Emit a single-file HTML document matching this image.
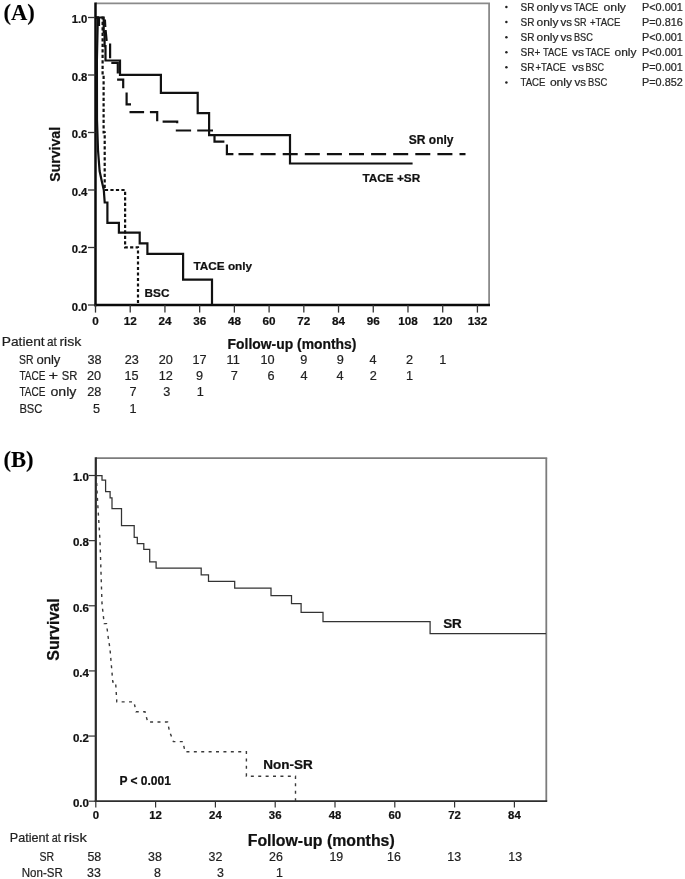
<!DOCTYPE html>
<html lang="en">
<head>
<meta charset="utf-8">
<title>Kaplan-Meier survival curves</title>
<style>
html, body { margin: 0; padding: 0; background: #ffffff; }
body { width: 685px; height: 879px; overflow: hidden; }
svg { display: block; }
text { white-space: pre; }
.sans { font-family: "Liberation Sans", Arial, sans-serif; }
.serif { font-family: "Liberation Serif", "Times New Roman", serif; }
.b { font-weight: 700; stroke: #111; stroke-width: 0.22px; }
.r { stroke: #2a2a2a; stroke-width: 0.22px; }
.serif.b { stroke-width: 0.12px; }
</style>
</head>
<body>
<svg width="685" height="879" viewBox="0 0 685 879">
<rect x="0" y="0" width="685" height="879" fill="#ffffff"/>
<g id="panelA">
<line x1="95.5" y1="3.3" x2="490.0" y2="3.3" stroke="#8a8a8a" stroke-width="1.8"/>
<line x1="489.1" y1="3.3" x2="489.1" y2="305.0" stroke="#8a8a8a" stroke-width="1.8"/>
<line x1="95.5" y1="2.4" x2="95.5" y2="306.2" stroke="#0a0a0a" stroke-width="2.5"/>
<line x1="94.3" y1="305.0" x2="490.0" y2="305.0" stroke="#0a0a0a" stroke-width="2.5"/>
<line x1="88.0" y1="17.5" x2="95.5" y2="17.5" stroke="#333" stroke-width="1.3"/>
<text class="sans b" x="87.4" y="23.4" font-size="11.3" text-anchor="end" fill="#111">1.0</text>
<line x1="88.0" y1="75.0" x2="95.5" y2="75.0" stroke="#333" stroke-width="1.3"/>
<text class="sans b" x="87.4" y="80.9" font-size="11.3" text-anchor="end" fill="#111">0.8</text>
<line x1="88.0" y1="132.5" x2="95.5" y2="132.5" stroke="#333" stroke-width="1.3"/>
<text class="sans b" x="87.4" y="138.4" font-size="11.3" text-anchor="end" fill="#111">0.6</text>
<line x1="88.0" y1="190.0" x2="95.5" y2="190.0" stroke="#333" stroke-width="1.3"/>
<text class="sans b" x="87.4" y="195.9" font-size="11.3" text-anchor="end" fill="#111">0.4</text>
<line x1="88.0" y1="247.5" x2="95.5" y2="247.5" stroke="#333" stroke-width="1.3"/>
<text class="sans b" x="87.4" y="253.4" font-size="11.3" text-anchor="end" fill="#111">0.2</text>
<line x1="88.0" y1="305.0" x2="95.5" y2="305.0" stroke="#333" stroke-width="1.3"/>
<text class="sans b" x="87.4" y="310.9" font-size="11.3" text-anchor="end" fill="#111">0.0</text>
<line x1="95.5" y1="305.0" x2="95.5" y2="312.6" stroke="#333" stroke-width="1.3"/>
<text class="sans b" x="95.5" y="324.8" font-size="11.7" text-anchor="middle" fill="#111">0</text>
<line x1="130.22" y1="305.0" x2="130.22" y2="312.6" stroke="#333" stroke-width="1.3"/>
<text class="sans b" x="130.2" y="324.8" font-size="11.7" text-anchor="middle" fill="#111">12</text>
<line x1="164.94" y1="305.0" x2="164.94" y2="312.6" stroke="#333" stroke-width="1.3"/>
<text class="sans b" x="164.9" y="324.8" font-size="11.7" text-anchor="middle" fill="#111">24</text>
<line x1="199.66000000000003" y1="305.0" x2="199.66000000000003" y2="312.6" stroke="#333" stroke-width="1.3"/>
<text class="sans b" x="199.7" y="324.8" font-size="11.7" text-anchor="middle" fill="#111">36</text>
<line x1="234.38" y1="305.0" x2="234.38" y2="312.6" stroke="#333" stroke-width="1.3"/>
<text class="sans b" x="234.4" y="324.8" font-size="11.7" text-anchor="middle" fill="#111">48</text>
<line x1="269.1" y1="305.0" x2="269.1" y2="312.6" stroke="#333" stroke-width="1.3"/>
<text class="sans b" x="269.1" y="324.8" font-size="11.7" text-anchor="middle" fill="#111">60</text>
<line x1="303.82000000000005" y1="305.0" x2="303.82000000000005" y2="312.6" stroke="#333" stroke-width="1.3"/>
<text class="sans b" x="303.8" y="324.8" font-size="11.7" text-anchor="middle" fill="#111">72</text>
<line x1="338.53999999999996" y1="305.0" x2="338.53999999999996" y2="312.6" stroke="#333" stroke-width="1.3"/>
<text class="sans b" x="338.5" y="324.8" font-size="11.7" text-anchor="middle" fill="#111">84</text>
<line x1="373.26" y1="305.0" x2="373.26" y2="312.6" stroke="#333" stroke-width="1.3"/>
<text class="sans b" x="373.3" y="324.8" font-size="11.7" text-anchor="middle" fill="#111">96</text>
<line x1="407.97999999999996" y1="305.0" x2="407.97999999999996" y2="312.6" stroke="#333" stroke-width="1.3"/>
<text class="sans b" x="408.0" y="324.8" font-size="11.7" text-anchor="middle" fill="#111">108</text>
<line x1="442.7" y1="305.0" x2="442.7" y2="312.6" stroke="#333" stroke-width="1.3"/>
<text class="sans b" x="442.7" y="324.8" font-size="11.7" text-anchor="middle" fill="#111">120</text>
<line x1="477.42" y1="305.0" x2="477.42" y2="312.6" stroke="#333" stroke-width="1.3"/>
<text class="sans b" x="477.4" y="324.8" font-size="11.7" text-anchor="middle" fill="#111">132</text>
<text class="sans b" x="0" y="0" font-size="14.1" text-anchor="middle" fill="#111" transform="translate(59.7,154.3) rotate(-90)">Survival</text>
<text class="sans b" x="292.0" y="348.7" font-size="13.9" text-anchor="middle" fill="#111">Follow-up (months)</text>
<text class="serif b" x="3.5" y="19.8" font-size="22.6" text-anchor="start" fill="#000">(A)</text>
<path d="M95.9,17.5 L103.7,17.5 L103.7,31.8 L104.6,31.8 L104.6,46.1 L105.5,46.1 L105.5,60.5 L120.0,60.5 L120.0,74.9 L160.9,74.9 L160.9,92.8 L197.7,92.8 L197.7,113.2 L209.1,113.2 L209.1,135.1 L290.0,135.1 L290.0,163.5 L412.6,163.5" fill="none" stroke="#111" stroke-width="2.2"/>
<path d="M99.0,17.5 L99.0,26.0 M104.9,19.5 L105.3,27.0 M105.6,30.0 L106.6,40.0 L107.6,40.0 M110.1,43.6 L110.1,58.2 M111.3,62.8 L117.8,62.8 L117.8,73.6 M117.1,79.7 L123.2,79.7 L123.2,88.2 M126.6,92.6 L126.6,104.3 L131.0,104.3 M129.5,112.2 L144.1,112.2 M149.9,112.2 L157.2,112.2 L157.2,121.3 M162.6,121.7 L177.2,121.7 L177.2,123.2 M175.8,130.5 L191.1,130.5 M197.2,130.5 L213.0,130.5 M214.5,135.9 L214.5,141.7 L224.4,141.7 M226.9,144.6 L226.9,154.1 L233.4,154.1 M238.5,154.1 L253.5,154.1 M260.6,154.1 L275.6,154.1 M282.7,154.1 L297.7,154.1 M304.8,154.1 L319.8,154.1 M326.9,154.1 L341.9,154.1 M349.0,154.1 L364.0,154.1 M371.1,154.1 L386.1,154.1 M393.2,154.1 L408.2,154.1 M415.3,154.1 L430.3,154.1 M437.4,154.1 L452.4,154.1 M459.5,154.1 L465.5,154.1" fill="none" stroke="#111" stroke-width="2.2"/>
<path d="M95.9,17.5 L102.6,17.5 L102.6,74.9 L103.6,74.9 L103.6,132.4 L104.7,132.4 L104.7,190.0 L125.1,190.0 L125.1,247.3 L138.0,247.3 L138.0,304.5" fill="none" stroke="#111" stroke-width="2.2" stroke-dasharray="3.2 2.3"/>
<path d="M95.9,17.5 L97.6,17.5 L97.6,28.0 L96.9,60.0 L97.0,120.0 L98.0,150.0 L99.6,171.0 L101.8,181.3 L103.8,190.0 L104.7,202.5 L107.4,202.5 L107.4,222.8 L118.9,222.8 L118.9,232.6 L139.7,232.6 L139.7,243.3 L147.4,243.3 L147.4,253.8 L183.1,253.8 L183.1,279.6 L212.0,279.6 L212.0,304.5" fill="none" stroke="#111" stroke-width="2.2"/>
<text class="sans b" x="408.8" y="144.3" font-size="12" text-anchor="start" fill="#111">SR only</text>
<text class="sans b" x="362.4" y="181.7" font-size="11.8" text-anchor="start" fill="#111">TACE +SR</text>
<text class="sans b" x="193.4" y="270.3" font-size="11.8" text-anchor="start" fill="#111">TACE only</text>
<text class="sans b" x="144.6" y="296.5" font-size="11.8" text-anchor="start" fill="#111">BSC</text>
</g>
<g id="legendA">
<circle cx="506.4" cy="7.0" r="1.25" fill="#222"/>
<text class="sans r" x="520.5" y="10.7" font-size="10.6" text-anchor="start" fill="#262626" textLength="13.9" lengthAdjust="spacingAndGlyphs">SR</text>
<text class="sans r" x="536.5" y="10.7" font-size="10.6" text-anchor="start" fill="#262626" textLength="21.9" lengthAdjust="spacingAndGlyphs">only</text>
<text class="sans r" x="560.5" y="10.7" font-size="10.6" text-anchor="start" fill="#262626" textLength="11.5" lengthAdjust="spacingAndGlyphs">vs</text>
<text class="sans r" x="573.9" y="10.7" font-size="10.6" text-anchor="start" fill="#262626" textLength="24.5" lengthAdjust="spacingAndGlyphs">TACE</text>
<text class="sans r" x="603.5" y="10.7" font-size="10.6" text-anchor="start" fill="#262626" textLength="22.5" lengthAdjust="spacingAndGlyphs">only</text>
<text class="sans r" x="642.0" y="10.7" font-size="10.6" text-anchor="start" fill="#262626" textLength="40.8" lengthAdjust="spacingAndGlyphs">P&lt;0.001</text>
<circle cx="506.4" cy="22.1" r="1.25" fill="#222"/>
<text class="sans r" x="520.5" y="25.8" font-size="10.6" text-anchor="start" fill="#262626" textLength="13.9" lengthAdjust="spacingAndGlyphs">SR</text>
<text class="sans r" x="536.5" y="25.8" font-size="10.6" text-anchor="start" fill="#262626" textLength="21.9" lengthAdjust="spacingAndGlyphs">only</text>
<text class="sans r" x="560.5" y="25.8" font-size="10.6" text-anchor="start" fill="#262626" textLength="11.5" lengthAdjust="spacingAndGlyphs">vs</text>
<text class="sans r" x="573.9" y="25.8" font-size="10.6" text-anchor="start" fill="#262626" textLength="12.5" lengthAdjust="spacingAndGlyphs">SR</text>
<text class="sans r" x="589.9" y="25.8" font-size="10.6" text-anchor="start" fill="#262626" textLength="30.5" lengthAdjust="spacingAndGlyphs">+TACE</text>
<text class="sans r" x="642.0" y="25.8" font-size="10.6" text-anchor="start" fill="#262626" textLength="40.8" lengthAdjust="spacingAndGlyphs">P=0.816</text>
<circle cx="506.4" cy="37.2" r="1.25" fill="#222"/>
<text class="sans r" x="520.5" y="40.9" font-size="10.6" text-anchor="start" fill="#262626" textLength="13.9" lengthAdjust="spacingAndGlyphs">SR</text>
<text class="sans r" x="536.5" y="40.9" font-size="10.6" text-anchor="start" fill="#262626" textLength="21.9" lengthAdjust="spacingAndGlyphs">only</text>
<text class="sans r" x="560.5" y="40.9" font-size="10.6" text-anchor="start" fill="#262626" textLength="11.5" lengthAdjust="spacingAndGlyphs">vs</text>
<text class="sans r" x="573.9" y="40.9" font-size="10.6" text-anchor="start" fill="#262626" textLength="18.9" lengthAdjust="spacingAndGlyphs">BSC</text>
<text class="sans r" x="642.0" y="40.9" font-size="10.6" text-anchor="start" fill="#262626" textLength="40.8" lengthAdjust="spacingAndGlyphs">P&lt;0.001</text>
<circle cx="506.4" cy="52.2" r="1.25" fill="#222"/>
<text class="sans r" x="520.5" y="56.0" font-size="10.6" text-anchor="start" fill="#262626" textLength="19.9" lengthAdjust="spacingAndGlyphs">SR+</text>
<text class="sans r" x="543.1" y="56.0" font-size="10.6" text-anchor="start" fill="#262626" textLength="24.3" lengthAdjust="spacingAndGlyphs">TACE</text>
<text class="sans r" x="571.9" y="56.0" font-size="10.6" text-anchor="start" fill="#262626" textLength="12.1" lengthAdjust="spacingAndGlyphs">vs</text>
<text class="sans r" x="585.5" y="56.0" font-size="10.6" text-anchor="start" fill="#262626" textLength="24.5" lengthAdjust="spacingAndGlyphs">TACE</text>
<text class="sans r" x="614.5" y="56.0" font-size="10.6" text-anchor="start" fill="#262626" textLength="21.9" lengthAdjust="spacingAndGlyphs">only</text>
<text class="sans r" x="642.0" y="56.0" font-size="10.6" text-anchor="start" fill="#262626" textLength="40.8" lengthAdjust="spacingAndGlyphs">P&lt;0.001</text>
<circle cx="506.4" cy="67.3" r="1.25" fill="#222"/>
<text class="sans r" x="520.5" y="71.1" font-size="10.6" text-anchor="start" fill="#262626" textLength="13.9" lengthAdjust="spacingAndGlyphs">SR</text>
<text class="sans r" x="535.5" y="71.1" font-size="10.6" text-anchor="start" fill="#262626" textLength="30.5" lengthAdjust="spacingAndGlyphs">+TACE</text>
<text class="sans r" x="571.9" y="71.1" font-size="10.6" text-anchor="start" fill="#262626" textLength="12.1" lengthAdjust="spacingAndGlyphs">vs</text>
<text class="sans r" x="585.5" y="71.1" font-size="10.6" text-anchor="start" fill="#262626" textLength="18.5" lengthAdjust="spacingAndGlyphs">BSC</text>
<text class="sans r" x="642.0" y="71.1" font-size="10.6" text-anchor="start" fill="#262626" textLength="40.8" lengthAdjust="spacingAndGlyphs">P=0.001</text>
<circle cx="506.4" cy="82.4" r="1.25" fill="#222"/>
<text class="sans r" x="520.5" y="86.2" font-size="10.6" text-anchor="start" fill="#262626" textLength="24.9" lengthAdjust="spacingAndGlyphs">TACE</text>
<text class="sans r" x="549.9" y="86.2" font-size="10.6" text-anchor="start" fill="#262626" textLength="22.1" lengthAdjust="spacingAndGlyphs">only</text>
<text class="sans r" x="574.5" y="86.2" font-size="10.6" text-anchor="start" fill="#262626" textLength="11.5" lengthAdjust="spacingAndGlyphs">vs</text>
<text class="sans r" x="588.1" y="86.2" font-size="10.6" text-anchor="start" fill="#262626" textLength="19.3" lengthAdjust="spacingAndGlyphs">BSC</text>
<text class="sans r" x="642.0" y="86.2" font-size="10.6" text-anchor="start" fill="#262626" textLength="40.8" lengthAdjust="spacingAndGlyphs">P=0.852</text>
</g>
<g id="riskA">
<text class="sans r" x="1.8" y="346.4" font-size="12.7" text-anchor="start" fill="#1c1c1c" textLength="42.8" lengthAdjust="spacingAndGlyphs">Patient</text>
<text class="sans r" x="47.0" y="346.4" font-size="12.7" text-anchor="start" fill="#1c1c1c" textLength="9.8" lengthAdjust="spacingAndGlyphs">at</text>
<text class="sans r" x="59.4" y="346.4" font-size="12.7" text-anchor="start" fill="#1c1c1c" textLength="22.0" lengthAdjust="spacingAndGlyphs">risk</text>
<text class="sans r" x="19.0" y="364.3" font-size="12.7" text-anchor="start" fill="#1c1c1c" textLength="14.4" lengthAdjust="spacingAndGlyphs">SR</text>
<text class="sans r" x="36.4" y="364.3" font-size="12.7" text-anchor="start" fill="#1c1c1c" textLength="24.0" lengthAdjust="spacingAndGlyphs">only</text>
<text class="sans r" x="94.6" y="364.3" font-size="12.7" text-anchor="middle" fill="#1c1c1c">38</text>
<text class="sans r" x="131.7" y="364.3" font-size="12.7" text-anchor="middle" fill="#1c1c1c">23</text>
<text class="sans r" x="165.7" y="364.3" font-size="12.7" text-anchor="middle" fill="#1c1c1c">20</text>
<text class="sans r" x="199.5" y="364.3" font-size="12.7" text-anchor="middle" fill="#1c1c1c">17</text>
<text class="sans r" x="233.2" y="364.3" font-size="12.7" text-anchor="middle" fill="#1c1c1c">11</text>
<text class="sans r" x="267.5" y="364.3" font-size="12.7" text-anchor="middle" fill="#1c1c1c">10</text>
<text class="sans r" x="303.8" y="364.3" font-size="12.7" text-anchor="middle" fill="#1c1c1c">9</text>
<text class="sans r" x="340.2" y="364.3" font-size="12.7" text-anchor="middle" fill="#1c1c1c">9</text>
<text class="sans r" x="373.0" y="364.3" font-size="12.7" text-anchor="middle" fill="#1c1c1c">4</text>
<text class="sans r" x="409.5" y="364.3" font-size="12.7" text-anchor="middle" fill="#1c1c1c">2</text>
<text class="sans r" x="442.7" y="364.3" font-size="12.7" text-anchor="middle" fill="#1c1c1c">1</text>
<text class="sans r" x="19.4" y="380.0" font-size="12.7" text-anchor="start" fill="#1c1c1c" textLength="26.0" lengthAdjust="spacingAndGlyphs">TACE</text>
<text class="sans r" x="48.4" y="380.0" font-size="12.7" text-anchor="start" fill="#1c1c1c" textLength="9.6" lengthAdjust="spacingAndGlyphs">+</text>
<text class="sans r" x="61.8" y="380.0" font-size="12.7" text-anchor="start" fill="#1c1c1c" textLength="15.6" lengthAdjust="spacingAndGlyphs">SR</text>
<text class="sans r" x="94.0" y="380.0" font-size="12.7" text-anchor="middle" fill="#1c1c1c">20</text>
<text class="sans r" x="131.5" y="380.0" font-size="12.7" text-anchor="middle" fill="#1c1c1c">15</text>
<text class="sans r" x="165.7" y="380.0" font-size="12.7" text-anchor="middle" fill="#1c1c1c">12</text>
<text class="sans r" x="199.5" y="380.0" font-size="12.7" text-anchor="middle" fill="#1c1c1c">9</text>
<text class="sans r" x="234.4" y="380.0" font-size="12.7" text-anchor="middle" fill="#1c1c1c">7</text>
<text class="sans r" x="271.0" y="380.0" font-size="12.7" text-anchor="middle" fill="#1c1c1c">6</text>
<text class="sans r" x="304.0" y="380.0" font-size="12.7" text-anchor="middle" fill="#1c1c1c">4</text>
<text class="sans r" x="340.0" y="380.0" font-size="12.7" text-anchor="middle" fill="#1c1c1c">4</text>
<text class="sans r" x="373.3" y="380.0" font-size="12.7" text-anchor="middle" fill="#1c1c1c">2</text>
<text class="sans r" x="409.6" y="380.0" font-size="12.7" text-anchor="middle" fill="#1c1c1c">1</text>
<text class="sans r" x="19.4" y="396.3" font-size="12.7" text-anchor="start" fill="#1c1c1c" textLength="26.0" lengthAdjust="spacingAndGlyphs">TACE</text>
<text class="sans r" x="50.4" y="396.3" font-size="12.7" text-anchor="start" fill="#1c1c1c" textLength="26.0" lengthAdjust="spacingAndGlyphs">only</text>
<text class="sans r" x="94.3" y="396.3" font-size="12.7" text-anchor="middle" fill="#1c1c1c">28</text>
<text class="sans r" x="133.0" y="396.3" font-size="12.7" text-anchor="middle" fill="#1c1c1c">7</text>
<text class="sans r" x="166.8" y="396.3" font-size="12.7" text-anchor="middle" fill="#1c1c1c">3</text>
<text class="sans r" x="200.3" y="396.3" font-size="12.7" text-anchor="middle" fill="#1c1c1c">1</text>
<text class="sans r" x="19.4" y="412.8" font-size="12.7" text-anchor="start" fill="#1c1c1c" textLength="23.0" lengthAdjust="spacingAndGlyphs">BSC</text>
<text class="sans r" x="96.6" y="412.8" font-size="12.7" text-anchor="middle" fill="#1c1c1c">5</text>
<text class="sans r" x="133.0" y="412.8" font-size="12.7" text-anchor="middle" fill="#1c1c1c">1</text>
</g>
<g id="panelB">
<line x1="95.8" y1="458.2" x2="547.1999999999999" y2="458.2" stroke="#7c7c7c" stroke-width="1.8"/>
<line x1="546.3" y1="458.2" x2="546.3" y2="801.2" stroke="#7c7c7c" stroke-width="1.8"/>
<line x1="95.8" y1="457.3" x2="95.8" y2="802.1" stroke="#2a2a2a" stroke-width="2.2"/>
<line x1="94.7" y1="801.2" x2="547.1999999999999" y2="801.2" stroke="#2e2e2e" stroke-width="1.8"/>
<line x1="88.8" y1="475.50000000000006" x2="95.8" y2="475.50000000000006" stroke="#333" stroke-width="1.2"/>
<text class="sans b" x="89.0" y="481.2" font-size="11.6" text-anchor="end" fill="#111">1.0</text>
<line x1="88.8" y1="540.6400000000001" x2="95.8" y2="540.6400000000001" stroke="#333" stroke-width="1.2"/>
<text class="sans b" x="89.0" y="546.3" font-size="11.6" text-anchor="end" fill="#111">0.8</text>
<line x1="88.8" y1="605.7800000000001" x2="95.8" y2="605.7800000000001" stroke="#333" stroke-width="1.2"/>
<text class="sans b" x="89.0" y="611.5" font-size="11.6" text-anchor="end" fill="#111">0.6</text>
<line x1="88.8" y1="670.9200000000001" x2="95.8" y2="670.9200000000001" stroke="#333" stroke-width="1.2"/>
<text class="sans b" x="89.0" y="676.6" font-size="11.6" text-anchor="end" fill="#111">0.4</text>
<line x1="88.8" y1="736.0600000000001" x2="95.8" y2="736.0600000000001" stroke="#333" stroke-width="1.2"/>
<text class="sans b" x="89.0" y="741.8" font-size="11.6" text-anchor="end" fill="#111">0.2</text>
<line x1="88.8" y1="801.2" x2="95.8" y2="801.2" stroke="#333" stroke-width="1.2"/>
<text class="sans b" x="89.0" y="806.9" font-size="11.6" text-anchor="end" fill="#111">0.0</text>
<line x1="95.8" y1="801.2" x2="95.8" y2="807.4000000000001" stroke="#333" stroke-width="1.2"/>
<text class="sans b" x="95.8" y="819.4" font-size="11.4" text-anchor="middle" fill="#111">0</text>
<line x1="155.6" y1="801.2" x2="155.6" y2="807.4000000000001" stroke="#333" stroke-width="1.2"/>
<text class="sans b" x="155.6" y="819.4" font-size="11.4" text-anchor="middle" fill="#111">12</text>
<line x1="215.39999999999998" y1="801.2" x2="215.39999999999998" y2="807.4000000000001" stroke="#333" stroke-width="1.2"/>
<text class="sans b" x="215.4" y="819.4" font-size="11.4" text-anchor="middle" fill="#111">24</text>
<line x1="275.2" y1="801.2" x2="275.2" y2="807.4000000000001" stroke="#333" stroke-width="1.2"/>
<text class="sans b" x="275.2" y="819.4" font-size="11.4" text-anchor="middle" fill="#111">36</text>
<line x1="334.99999999999994" y1="801.2" x2="334.99999999999994" y2="807.4000000000001" stroke="#333" stroke-width="1.2"/>
<text class="sans b" x="335.0" y="819.4" font-size="11.4" text-anchor="middle" fill="#111">48</text>
<line x1="394.8" y1="801.2" x2="394.8" y2="807.4000000000001" stroke="#333" stroke-width="1.2"/>
<text class="sans b" x="394.8" y="819.4" font-size="11.4" text-anchor="middle" fill="#111">60</text>
<line x1="454.59999999999997" y1="801.2" x2="454.59999999999997" y2="807.4000000000001" stroke="#333" stroke-width="1.2"/>
<text class="sans b" x="454.6" y="819.4" font-size="11.4" text-anchor="middle" fill="#111">72</text>
<line x1="514.4" y1="801.2" x2="514.4" y2="807.4000000000001" stroke="#333" stroke-width="1.2"/>
<text class="sans b" x="514.4" y="819.4" font-size="11.4" text-anchor="middle" fill="#111">84</text>
<text class="sans b" x="0" y="0" font-size="16" text-anchor="middle" fill="#111" transform="translate(59.4,629.5) rotate(-90)">Survival</text>
<text class="sans b" x="321.2" y="845.9" font-size="15.85" text-anchor="middle" fill="#111">Follow-up (months)</text>
<text class="serif b" x="3.5" y="467.3" font-size="22.6" text-anchor="start" fill="#000">(B)</text>
<path d="M96.0,475.5 L102.0,475.5 L102.0,480.0 L105.6,480.0 L105.6,491.5 L110.0,491.5 L110.1,491.5 L110.1,497.8 L112.0,497.8 L112.0,508.5 L120.8,508.5 L121.5,508.5 L121.5,525.6 L133.6,525.6 L134.2,525.6 L134.2,537.3 L136.8,537.3 L137.3,537.3 L137.3,543.5 L143.4,543.5 L143.8,543.5 L143.8,549.4 L148.5,549.4 L149.7,549.4 L149.7,561.8 L155.8,561.8 L156.1,561.8 L156.1,568.0 L201.2,568.0 L201.2,574.9 L208.5,574.9 L208.5,581.3 L234.7,581.3 L234.7,588.2 L271.0,588.2 L271.0,595.7 L291.5,595.7 L291.5,603.6 L301.1,603.6 L301.1,612.3 L323.0,612.3 L323.0,621.6 L430.1,621.6 L430.1,633.7 L546.0,633.7" fill="none" stroke="#333" stroke-width="1.25"/>
<path d="M96.3,475.7 L97.5,500.0 L100.0,541.0 L102.0,603.7 L104.2,623.6 L106.5,623.6 L108.0,636.0 L110.0,649.0 L112.8,682.0 L115.6,682.0 L116.8,701.9 L134.0,701.9 L136.0,711.8 L145.0,711.8 L147.7,722.0 L167.6,722.0 L169.5,731.4 L173.4,741.6 L182.8,741.6 L185.1,751.8 L246.4,751.8 L246.4,776.2 L295.5,776.2 L295.5,801.0" fill="none" stroke="#3a3a3a" stroke-width="1.4" stroke-dasharray="3 4.4"/>
<text class="sans b" x="443.2" y="628.4" font-size="13.4" text-anchor="start" fill="#111">SR</text>
<text class="sans b" x="263.2" y="769.0" font-size="13.5" text-anchor="start" fill="#111">Non-SR</text>
<text class="sans b" x="119.4" y="785.4" font-size="12" text-anchor="start" fill="#111">P &lt; 0.001</text>
</g>
<g id="riskB">
<text class="sans r" x="9.8" y="842.0" font-size="12.4" text-anchor="start" fill="#1c1c1c" textLength="39.2" lengthAdjust="spacingAndGlyphs">Patient</text>
<text class="sans r" x="51.8" y="842.0" font-size="12.4" text-anchor="start" fill="#1c1c1c" textLength="9.0" lengthAdjust="spacingAndGlyphs">at</text>
<text class="sans r" x="63.8" y="842.0" font-size="12.4" text-anchor="start" fill="#1c1c1c" textLength="23.0" lengthAdjust="spacingAndGlyphs">risk</text>
<text class="sans r" x="39.4" y="861.1" font-size="12.4" text-anchor="start" fill="#1c1c1c" textLength="14.6" lengthAdjust="spacingAndGlyphs">SR</text>
<text class="sans r" x="94.3" y="861.1" font-size="12.4" text-anchor="middle" fill="#1c1c1c">58</text>
<text class="sans r" x="155.0" y="861.1" font-size="12.4" text-anchor="middle" fill="#1c1c1c">38</text>
<text class="sans r" x="215.5" y="861.1" font-size="12.4" text-anchor="middle" fill="#1c1c1c">32</text>
<text class="sans r" x="276.0" y="861.1" font-size="12.4" text-anchor="middle" fill="#1c1c1c">26</text>
<text class="sans r" x="336.3" y="861.1" font-size="12.4" text-anchor="middle" fill="#1c1c1c">19</text>
<text class="sans r" x="394.0" y="861.1" font-size="12.4" text-anchor="middle" fill="#1c1c1c">16</text>
<text class="sans r" x="454.2" y="861.1" font-size="12.4" text-anchor="middle" fill="#1c1c1c">13</text>
<text class="sans r" x="515.2" y="861.1" font-size="12.4" text-anchor="middle" fill="#1c1c1c">13</text>
<text class="sans r" x="21.8" y="876.7" font-size="12.4" text-anchor="start" fill="#1c1c1c" textLength="41.0" lengthAdjust="spacingAndGlyphs">Non-SR</text>
<text class="sans r" x="94.0" y="876.7" font-size="12.4" text-anchor="middle" fill="#1c1c1c">33</text>
<text class="sans r" x="157.5" y="876.7" font-size="12.4" text-anchor="middle" fill="#1c1c1c">8</text>
<text class="sans r" x="220.4" y="876.7" font-size="12.4" text-anchor="middle" fill="#1c1c1c">3</text>
<text class="sans r" x="279.5" y="876.7" font-size="12.4" text-anchor="middle" fill="#1c1c1c">1</text>
</g>
</svg>
</body>
</html>
